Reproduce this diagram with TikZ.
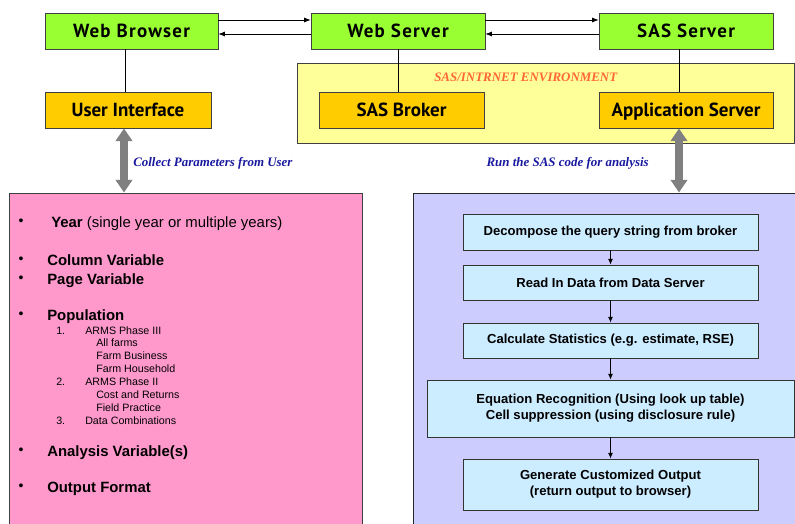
\documentclass[tikz,border=0pt]{standalone}
\usepackage{fontspec}
\setmainfont{Liberation Sans}
\newfontfamily\labelserif{Liberation Serif}
\newfontfamily\boxfont{PT Sans}
\newfontfamily\boxfontwide[LetterSpace=6.5]{PT Sans}
\usepackage{tikz}
\usetikzlibrary{arrows.meta}

\definecolor{tiergreen}{HTML}{99FF33}
\definecolor{tierorange}{HTML}{FFCC00}
\definecolor{envyellow}{HTML}{FFFF99}
\definecolor{parampink}{HTML}{FF99CC}
\definecolor{codeviolet}{HTML}{CCCCFF}
\definecolor{steplight}{HTML}{CCECFF}
\definecolor{bigarrow}{HTML}{808080}
\definecolor{envtext}{HTML}{FF6633}
\definecolor{notetext}{RGB}{25,25,160}

\tikzset{
	tier/.style={draw=black!75,line width=0.6pt,minimum height=0.9cm,inner sep=0pt,
		text height=11pt,text depth=1.6pt,
		font=\boxfont\bfseries\fontsize{13.5}{15}\selectfont},
	servertier/.style={tier,fill=tiergreen,font=\boxfontwide\bfseries\fontsize{13.5}{15}\selectfont},
	stepbox/.style={draw=black!80,line width=0.6pt,fill=steplight,inner sep=0pt,align=center,
		font=\bfseries\fontsize{9.3}{11.5}\selectfont},
	link/.style={-{Latex[length=4.5pt,width=3.5pt]},line width=0.5pt},
	flow/.style={-{Latex[length=4pt,width=3.5pt]},line width=0.6pt},
	fat/.style={line width=5.7pt,draw=bigarrow,
		{Triangle[width=11.5pt,length=9pt]}-{Triangle[width=11.5pt,length=9pt]}},
	note/.style={font=\labelserif\bfseries\itshape\fontsize{9.2}{11}\selectfont,text=notetext},
	big/.style={anchor=base west,inner sep=0pt,font=\bfseries\fontsize{10.6}{12}\selectfont},
	small/.style={anchor=base west,inner sep=0pt,font=\fontsize{7.6}{9}\selectfont},
	dot/.style={anchor=center,inner sep=0pt,font=\fontsize{10}{11}\selectfont}
}

\begin{document}
\begin{tikzpicture}[x=0.025cm,y=-0.025cm]
	\clip (0,0) rectangle (795,524);
	\fill[white] (0,0) rectangle (795,524);

	% environment band
	\node[draw=black!75,line width=0.6pt,fill=envyellow,minimum width=12.425cm,minimum height=2cm,inner sep=0pt] (env) at (545.5,103) {};
	\node[anchor=west,inner sep=0pt,font=\labelserif\bfseries\itshape\fontsize{9.2}{11}\selectfont,text=envtext] (envlabel) at (434,77) {SAS/INTRNET ENVIRONMENT};

	% top row
	\node[servertier,minimum width=4.325cm] (wb) at (131.5,31) {Web Browser};
	\node[servertier,minimum width=4.35cm] (ws) at (398,31) {Web Server};
	\node[servertier,minimum width=4.35cm] (sas) at (686,31) {SAS Server};

	% second row
	\node[tier,fill=tierorange,minimum width=4.15cm] (ui) at (128,110) {User Interface};
	\node[tier,fill=tierorange,minimum width=4.125cm] (broker) at (401.5,110) {SAS Broker};
	\node[tier,fill=tierorange,minimum width=4.35cm] (app) at (686,110) {Application Server};

	% request / response arrows
	\draw[link] ([yshift=0.275cm]wb.east) -- ([yshift=0.275cm]ws.west);
	\draw[link] ([yshift=-0.075cm]ws.west) -- ([yshift=-0.075cm]wb.east);
	\draw[link] ([yshift=0.275cm]ws.east) -- ([yshift=0.275cm]sas.west);
	\draw[link] ([yshift=-0.075cm]sas.west) -- ([yshift=-0.075cm]ws.east);

	% vertical ties
	\draw[line width=0.5pt] ([xshift=-0.075cm]ui.north |- wb.south) -- ([xshift=-0.075cm]ui.north);
	\draw[line width=0.5pt] (ws.south) -- (ws.south |- broker.north);
	\draw[line width=0.5pt] ([xshift=-0.175cm]sas.south) -- ([xshift=-0.175cm]sas.south |- app.north);

	% lower panels
	\node[draw=black!75,line width=0.6pt,fill=parampink,minimum width=8.825cm,minimum height=8.675cm,inner sep=0pt] (params) at (185.5,366.5) {};
	\node[draw=black!85,line width=0.6pt,fill=codeviolet,minimum width=9.75cm,minimum height=8.675cm,inner sep=0pt] (code) at (608,366.5) {};

	% big arrows
	\draw[fat] ([xshift=-0.1cm]ui.south) -- ([xshift=-0.1cm]ui.south |- params.north);
	\draw[fat] ([xshift=-0.175cm]app.south) -- ([xshift=-0.175cm]app.south |- code.north);
	\node[note,anchor=west,inner sep=0pt] (collect) at (133,163) {Collect Parameters from User};
	\node[note,anchor=east,inner sep=0pt] (run) at (649,163) {Run the SAS code for analysis};

	% parameter list
	\node[dot] (d1) at (21,222) {\textbullet};
	\node[big] (year) at (51,227.4) {Year \mdseries(single year or multiple years)};
	\node[dot] (d2) at (21,260) {\textbullet};
	\node[big] (colvar) at (47,265.4) {Column Variable};
	\node[dot] (d3) at (21,279) {\textbullet};
	\node[big] (pagevar) at (47,284.4) {Page Variable};
	\node[dot] (d4) at (21,315) {\textbullet};
	\node[big] (pop) at (47,320.4) {Population};
	\node[small] (n1) at (56,334.9) {1.};
	\node[small] (phase3) at (85,334.9) {ARMS Phase III};
	\node[small] (allfarms) at (96,346.9) {All farms};
	\node[small] (business) at (96,359.9) {Farm Business};
	\node[small] (household) at (96,372.9) {Farm Household};
	\node[small] (n2) at (56,385.9) {2.};
	\node[small] (phase2) at (85,385.9) {ARMS Phase II};
	\node[small] (costs) at (96,398.9) {Cost and Returns};
	\node[small] (field) at (96,411.9) {Field Practice};
	\node[small] (n3) at (56,424.9) {3.};
	\node[small] (combos) at (85,424.9) {Data Combinations};
	\node[dot] (d5) at (21,451) {\textbullet};
	\node[big] (analysis) at (47,456.4) {Analysis Variable(s)};
	\node[dot] (d6) at (21,487) {\textbullet};
	\node[big] (outfmt) at (47,492.4) {Output Format};

	% processing steps
	\node[stepbox,minimum width=7.375cm,minimum height=0.9cm] (decompose) at (610.5,232) {Decompose the query string from broker};
	\node[stepbox,minimum width=7.375cm,minimum height=0.875cm] (readin) at (610.5,282.5) {Read In Data from Data Server};
	\node[stepbox,minimum width=7.375cm,minimum height=0.875cm] (stats) at (610.5,340.5) {Calculate Statistics (e.g. estimate, RSE)};
	\node[stepbox,minimum width=9.175cm,minimum height=1.425cm] (equation) at (610.5,408.5) {Equation Recognition (Using look up table)\\Cell suppression (using disclosure rule)};
	\node[stepbox,minimum width=7.375cm,minimum height=1.275cm] (output) at (610.5,484.5) {Generate Customized Output\\(return output to browser)};

	\draw[flow] (decompose) -- (readin);
	\draw[flow] (readin) -- (stats);
	\draw[flow] (stats) -- (equation);
	\draw[flow] (equation) -- (output);
\end{tikzpicture}
\end{document}
